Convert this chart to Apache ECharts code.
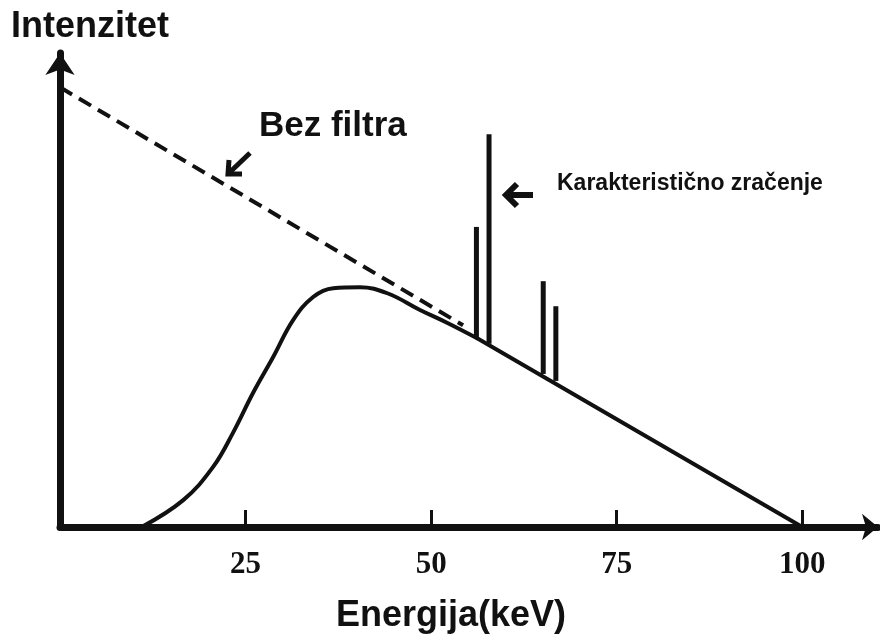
<!DOCTYPE html>
<html>
<head>
<meta charset="utf-8">
<script src="https://cdn.jsdelivr.net/npm/echarts@6/dist/echarts.min.js"></script>
<style>
  html, body { margin: 0; padding: 0; background: #fff; }
  #main { width: 880px; height: 640px; }
</style>
</head>
<body>
<div id="main"></div>
<script>
// energija (keV) / relativni intenzitet, ocitano sa slike
var tickValues = [25, 50, 75, 100];

// bez filtra (isprekidana linija)
var bezFiltraX = [0, 54.3];
var bezFiltraY = [94.8, 43.5];

// filtrirani spektar (puna linija) - zakrivljeni dio
var spektarX = [11, 16.6, 20.6, 23.3, 26.0, 28.7, 31.4, 34.1, 36.8, 40.4, 44.1, 48.5, 52.2, 56.2];
var spektarY = [0, 5.8, 12.9, 20.3, 28.9, 36.6, 44.6, 49.6, 51.5, 51.7, 50.4, 46.8, 44.0, 40.7];
// ravni dio do maksimalne energije
var pravacX = [56.2, 100];
var pravacY = [40.7, 0];

// karakteristicno zracenje (vertikalne linije)
var linijeX = [56.1, 57.8, 65.1, 66.8];
var linijeDno = [41, 39.5, 33, 31.5];
var linijeVrh = [64.7, 84.7, 53.0, 47.6];

var black = '#111';

function zip(xs, ys) {
  return xs.map(function (x, i) { return [x, ys[i]]; });
}

var chart = echarts.init(document.getElementById('main'), null, { renderer: 'canvas' });

var option = {
  animation: false,
  backgroundColor: '#fff',
  grid: { left: 60, right: 2, top: 53, bottom: 113 },
  xAxis: {
    type: 'value',
    min: 0,
    max: 110.2,
    interval: 25,
    axisLine: {
      show: true,
      symbol: ['none', 'arrow'],
      symbolSize: [20, 16],
      lineStyle: { color: black, width: 7 }
    },
    axisTick: {
      show: true,
      inside: true,
      length: 17,
      customValues: tickValues,
      lineStyle: { color: black, width: 3 }
    },
    axisLabel: {
      customValues: tickValues,
      margin: 22,
      color: black,
      fontFamily: 'Liberation Serif',
      fontWeight: 'bold',
      fontSize: 31
    },
    splitLine: { show: false }
  },
  yAxis: {
    type: 'value',
    min: 0,
    max: 102.2,
    axisLine: {
      show: true,
      symbol: ['none', 'arrow'],
      symbolSize: [22, 22],
      lineStyle: { color: black, width: 7 }
    },
    axisTick: { show: false },
    axisLabel: { show: false },
    splitLine: { show: false }
  },
  graphic: [
    { type: 'text', left: 11, top: 9, style: { text: 'Intenzitet', fill: black, font: 'bold 36px "Liberation Sans"' } },
    { type: 'text', left: 259, top: 109, style: { text: 'Bez filtra', fill: black, font: 'bold 35px "Liberation Sans"' } },
    { type: 'text', left: 557, top: 172, style: { text: 'Karakteristično zračenje', fill: black, font: 'bold 23px "Liberation Sans"' } },
    { type: 'text', left: 336, top: 598, style: { text: 'Energija(keV)', fill: black, font: 'bold 36px "Liberation Sans"' } },
    // strelica kod "Bez filtra"
    { type: 'line', shape: { x1: 229, y1: 173, x2: 250, y2: 153 }, style: { stroke: black, lineWidth: 5 } },
    { type: 'polyline', shape: { points: [[229, 160], [228, 174], [242, 174]] }, style: { stroke: black, fill: null, lineWidth: 5, lineJoin: 'miter' } },
    // strelica kod "Karakteristično zračenje"
    { type: 'line', shape: { x1: 506, y1: 195, x2: 533, y2: 195 }, style: { stroke: black, lineWidth: 6 } },
    { type: 'polyline', shape: { points: [[517, 184], [506, 195], [517, 206]] }, style: { stroke: black, fill: null, lineWidth: 6, lineJoin: 'miter' } }
  ],
  series: [
    {
      name: 'Bez filtra',
      type: 'line',
      data: zip(bezFiltraX, bezFiltraY),
      showSymbol: false,
      lineStyle: { color: black, width: 4, type: [14, 8] },
      z: 2
    },
    {
      name: 'Spektar',
      type: 'line',
      data: zip(spektarX, spektarY),
      smooth: 0.4,
      showSymbol: false,
      lineStyle: { color: black, width: 4, cap: 'round' },
      z: 3
    },
    {
      name: 'Spektar (pravac)',
      type: 'line',
      data: zip(pravacX, pravacY),
      showSymbol: false,
      lineStyle: { color: black, width: 4, cap: 'round' },
      z: 3
    },
    {
      name: 'Karakteristično zračenje',
      type: 'custom',
      data: linijeX.map(function (x, i) { return [x, linijeDno[i], linijeVrh[i]]; }),
      encode: { x: 0, y: [1, 2] },
      renderItem: function (params, api) {
        var p0 = api.coord([api.value(0), api.value(1)]);
        var p1 = api.coord([api.value(0), api.value(2)]);
        return {
          type: 'line',
          shape: { x1: p0[0], y1: p0[1], x2: p1[0], y2: p1[1] },
          style: { stroke: black, lineWidth: 5 }
        };
      },
      z: 4
    }
  ]
};

chart.setOption(option);
</script>
</body>
</html>
